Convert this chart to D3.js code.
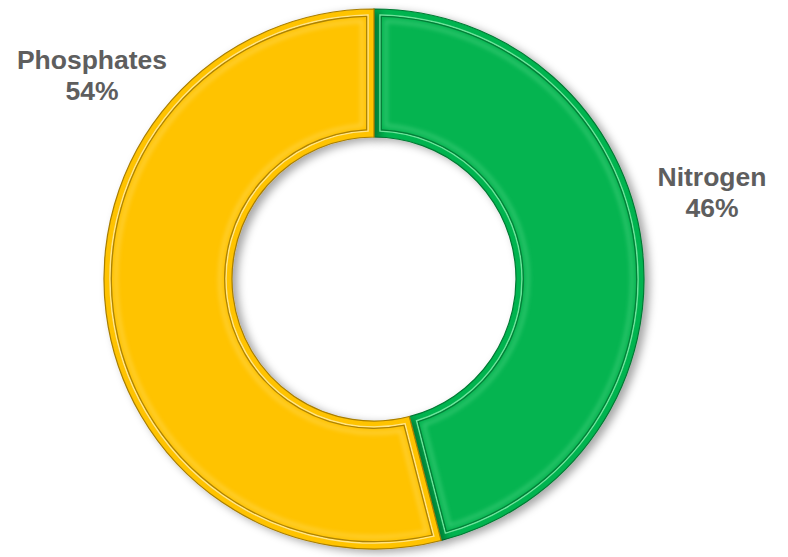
<!DOCTYPE html>
<html>
<head>
<meta charset="utf-8">
<script src="https://cdn.jsdelivr.net/npm/d3@7"></script>
<style>
    html, body { margin: 0; padding: 0; background: #ffffff; }
    svg { display: block; }
</style>
</head>
<body>
<div id="chart"></div>
<script>
const categories = ['Nitrogen', 'Phosphates'];
const values = [46, 54];
const percentLabels = ['46%', '54%'];

const palette = {
    Nitrogen:   { face: '#05B450', edge: '#007A34', light: '#6EE39C' },
    Phosphates: { face: '#FFC300', edge: '#A87E00', light: '#FFE58A' }
};
// where PowerPoint put the two data labels (block centre x, first baseline y)
const labelSpots = {
    Nitrogen:   { x: 712, y: 186 },
    Phosphates: { x: 92, y: 69 }
};

function createDonutChart() {
    const width = 788, height = 557;
    const cx = 374, cy = 279;
    const outerR = 270, innerR = 142;
    const bevel = 8;

    const svg = d3.select('#chart')
        .append('svg')
        .attr('width', width)
        .attr('height', height);

    const defs = svg.append('defs');
    const shadow = defs.append('filter')
        .attr('id', 'shadow')
        .attr('x', '-20%').attr('y', '-20%')
        .attr('width', '140%').attr('height', '140%');
    shadow.append('feDropShadow')
        .attr('dx', 5).attr('dy', 3)
        .attr('stdDeviation', 4)
        .attr('flood-color', '#000')
        .attr('flood-opacity', 0.35);

    const inShade = defs.append('filter').attr('id', 'inshade');
    inShade.append('feGaussianBlur').attr('stdDeviation', 0.7);

    const soft = defs.append('filter').attr('id', 'soft')
        .attr('x', '-10%').attr('y', '-10%')
        .attr('width', '120%').attr('height', '120%');
    soft.append('feGaussianBlur').attr('stdDeviation', 2);

    const data = categories.map((c, i) => ({ name: c, value: values[i], label: percentLabels[i] }));

    const pie = d3.pie()
        .value(d => d.value)
        .sort(null)
        .startAngle(0)
        .endAngle(2 * Math.PI);

    const arcs = pie(data);

    const inset = k => d3.arc()
        .innerRadius(innerR + k)
        .outerRadius(outerR - k)
        .padRadius(100)
        .padAngle(2 * k / 100);

    const baseArc = d3.arc().innerRadius(innerR).outerRadius(outerR);
    const rimArc = inset(bevel - 2);
    const faceArc = inset(bevel);
    const glowArc = inset(bevel + 4);

    const g = svg.append('g')
        .attr('transform', `translate(${cx},${cy})`);

    // base ring with drop shadow
    g.selectAll('.base')
        .data(arcs)
        .enter()
        .append('path')
        .attr('class', 'base')
        .attr('d', baseArc)
        .attr('fill', d => palette[d.data.name].face)
        .attr('stroke', d => palette[d.data.name].edge)
        .attr('stroke-width', 1.2)
        .attr('filter', 'url(#shadow)');

    // light groove line
    g.selectAll('.rim')
        .data(arcs)
        .enter()
        .append('path')
        .attr('class', 'rim')
        .attr('d', rimArc)
        .attr('fill', 'none')
        .attr('stroke', d => palette[d.data.name].light)
        .attr('stroke-width', 1.5);

    // dark groove line
    g.selectAll('.groove')
        .data(arcs)
        .enter()
        .append('path')
        .attr('class', 'groove')
        .attr('d', faceArc)
        .attr('fill', 'none')
        .attr('stroke', d => palette[d.data.name].edge)
        .attr('stroke-width', 2.5)
        .attr('filter', 'url(#inshade)');

    g.selectAll('.face')
        .data(arcs)
        .enter()
        .append('path')
        .attr('class', 'face')
        .attr('d', faceArc)
        .attr('fill', d => palette[d.data.name].face);

    // soft bevel highlight just inside the groove
    g.selectAll('.glow')
        .data(arcs)
        .enter()
        .append('path')
        .attr('class', 'glow')
        .attr('d', glowArc)
        .attr('fill', 'none')
        .attr('stroke', d => palette[d.data.name].light)
        .attr('stroke-opacity', 0.45)
        .attr('stroke-width', 3)
        .attr('filter', 'url(#soft)');

    // labels
    const labels = svg.selectAll('.label')
        .data(data)
        .enter()
        .append('text')
        .attr('class', 'label')
        .attr('text-anchor', 'middle')
        .style('font-family', '"Liberation Sans", Arial, sans-serif')
        .style('font-weight', 'bold')
        .style('font-size', '26.5px')
        .style('fill', '#5E5E5E');

    labels.append('tspan')
        .attr('x', d => labelSpots[d.name].x)
        .attr('y', d => labelSpots[d.name].y)
        .text(d => d.name);

    labels.append('tspan')
        .attr('x', d => labelSpots[d.name].x)
        .attr('y', d => labelSpots[d.name].y + 31)
        .text(d => d.label);
}

createDonutChart();
</script>
</body>
</html>
